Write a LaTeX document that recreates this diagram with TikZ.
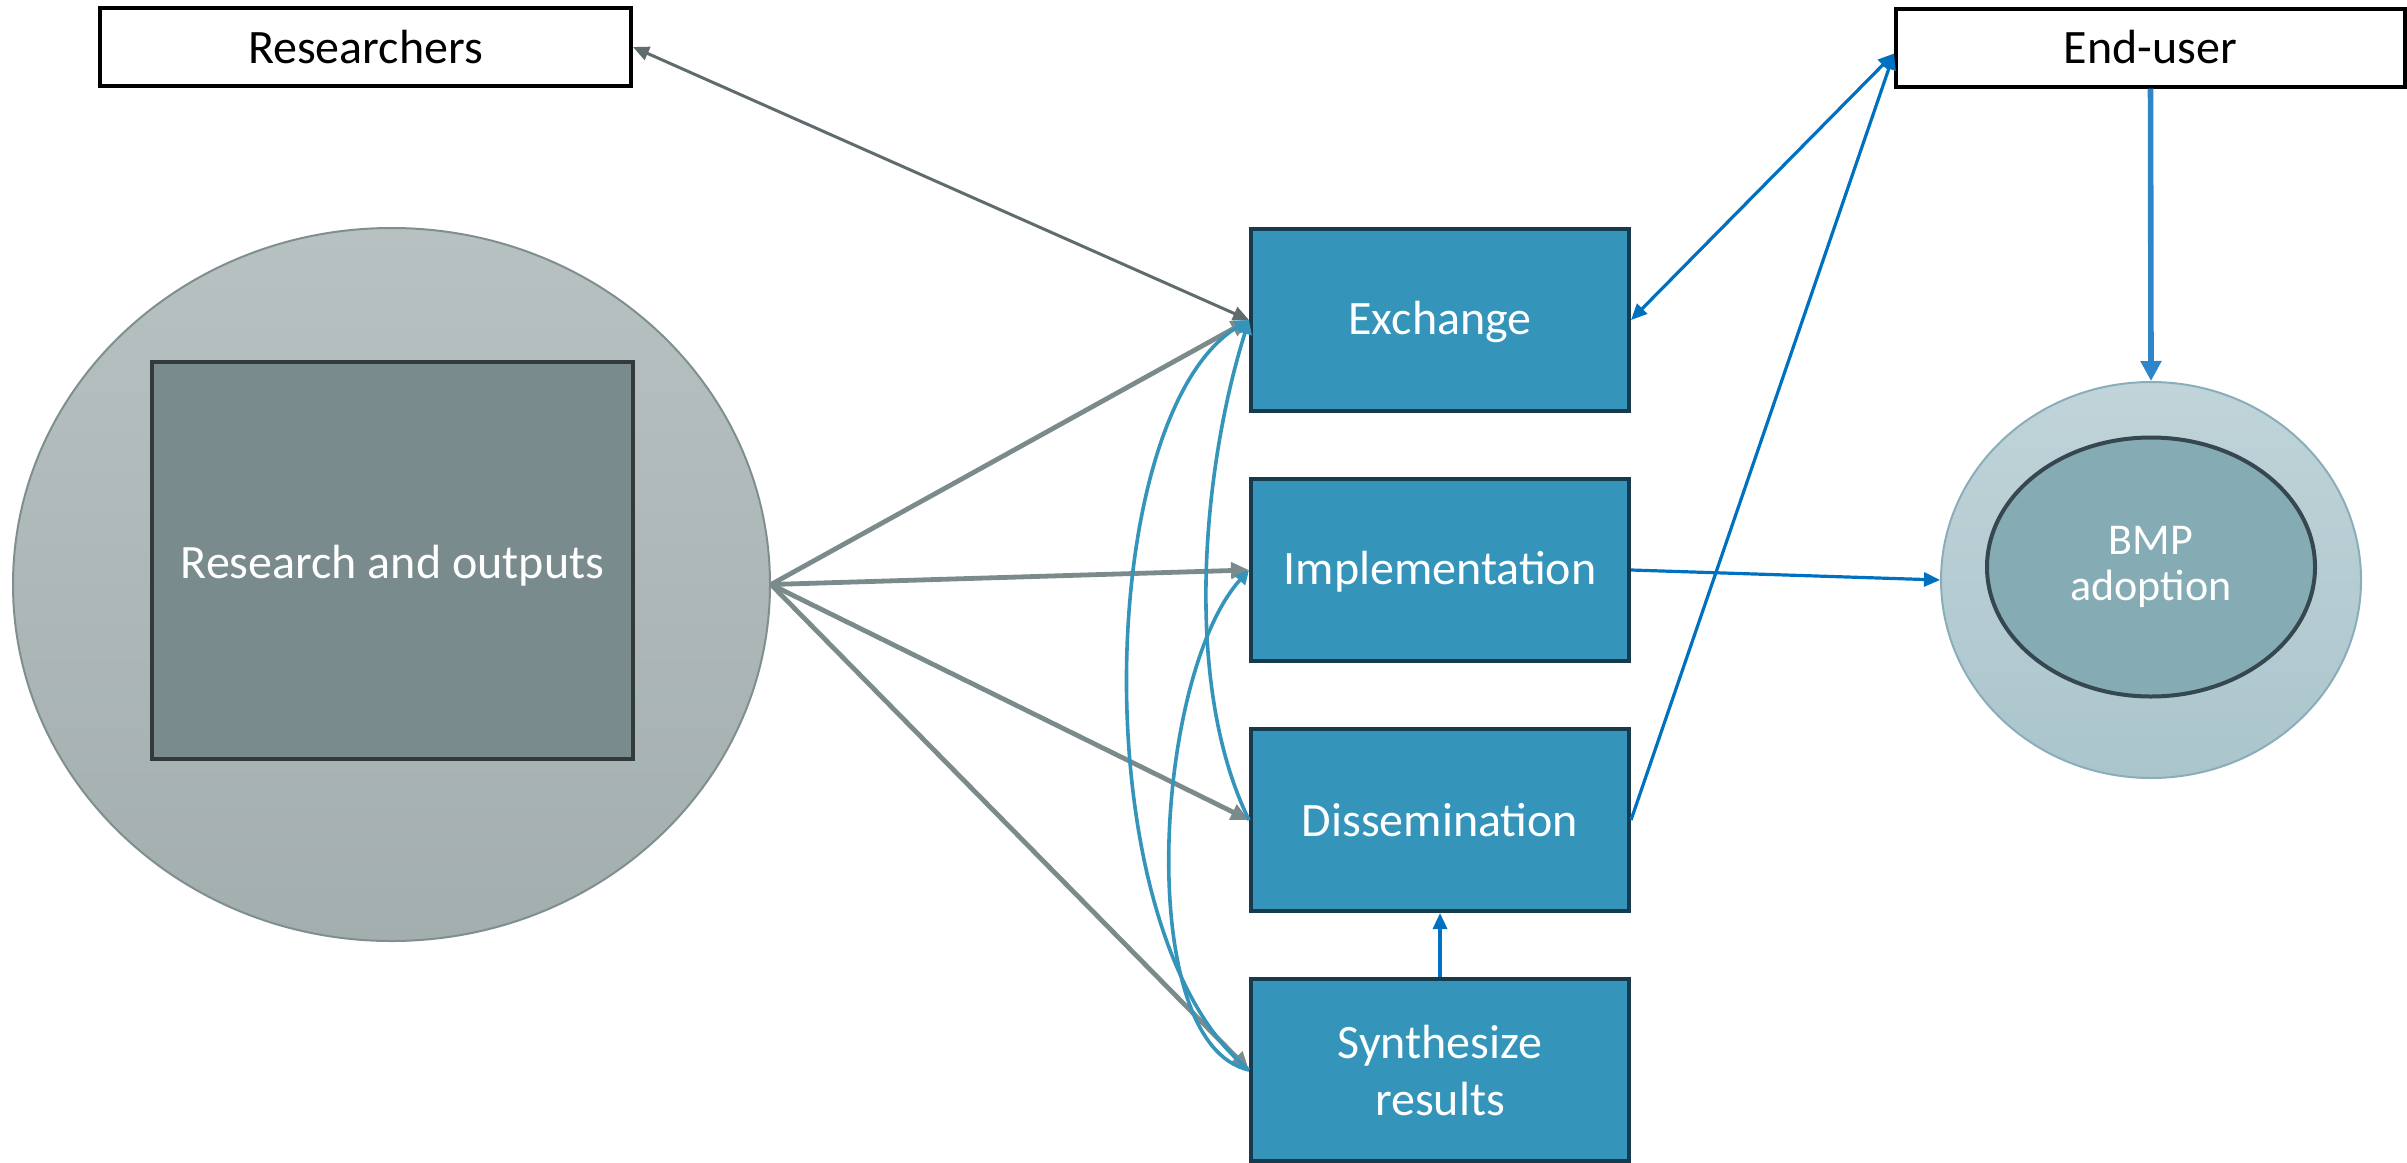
\documentclass[tikz,border=0pt]{standalone}
\usepackage{fontspec}
\setmainfont{Carlito}
\usetikzlibrary{arrows.meta,shapes.geometric}

\definecolor{boxfill}{HTML}{3494BA}
\definecolor{boxline}{HTML}{173A4E}
\definecolor{fanline}{HTML}{7B8B8C}
\definecolor{resline}{HTML}{5F6B6D}
\definecolor{curveblue}{HTML}{3494BA}
\definecolor{linkblue}{HTML}{0070C0}
\definecolor{adoptblue}{HTML}{2E86C8}
\definecolor{bigtop}{HTML}{B8C1C2}
\definecolor{bigbot}{HTML}{A3AEAF}
\definecolor{bigline}{HTML}{7F8F90}
\definecolor{rofill}{HTML}{7A8B8E}
\definecolor{roline}{HTML}{333A3C}
\definecolor{bmptop}{HTML}{C0D4D9}
\definecolor{bmpbot}{HTML}{ABC5CC}
\definecolor{bmpline}{HTML}{8AAEB9}
\definecolor{bmpinfill}{HTML}{85ABB5}
\definecolor{bmpinline}{HTML}{37474F}

\tikzset{
  bluetip/.tip={Triangle[length=8pt,width=7pt]},
  txt/.style={font=\fontsize{24}{28.5}\selectfont},
  actorbox/.style={txt, draw=black, line width=2pt, fill=white, inner sep=0pt,
    minimum height=39pt},
  stagebox/.style={txt, draw=boxline, line width=2pt, fill=boxfill, text=white,
    inner sep=0pt, minimum width=189pt, minimum height=91pt, align=center},
  onelinestage/.style={stagebox, text height=19pt, text depth=5pt},
  fan/.style={draw=fanline, line width=2.4pt, -{Triangle[length=9pt,width=8pt]}},
  loopcurve/.style={draw=curveblue, line width=1.8pt, -{Triangle[length=7pt,width=7pt]}},
  bluelink/.style={draw=linkblue, line width=1.6pt},
}

\begin{document}
\begin{tikzpicture}[x=0.5pt,y=-0.5pt]
\useasboundingbox (0,0) rectangle (2407,1162);

% research domain
\node[ellipse, draw=bigline, line width=1pt, top color=bigtop, bottom color=bigbot,
  minimum width=378.5pt, minimum height=356.5pt, inner sep=0pt] (big) at (391.5,584.5) {};
\node[txt, draw=roline, line width=2pt, fill=rofill, text=white, inner sep=0pt,
  text height=22.5pt, text depth=5pt,
  minimum width=240.5pt, minimum height=198.5pt] (ro) at (392.5,560.5) {Research and outputs};

% actors
\node[actorbox, minimum width=265.5pt] (res) at (365.5,47) {Researchers};
\node[actorbox, minimum width=254.5pt] (endu) at (2150.5,47.5) {End-user};

% stages
\node[onelinestage] (exch)  at (1440,320)  {Exchange};
\node[onelinestage] (impl)  at (1440,570)  {Implementation};
\node[stagebox] (diss)  at (1440,820)  {Dissemination};
\node[stagebox] (synth) at (1440,1070) {Synthesize\\results};

% adoption
\node[ellipse, draw=bmpline, line width=1pt, top color=bmptop, bottom color=bmpbot,
  minimum width=210pt, minimum height=198pt, inner sep=0pt] (bmpo) at (2151,580) {};
\node[ellipse, draw=bmpinline, line width=2pt, fill=bmpinfill, text=white, align=center,
  font=\fontsize{22}{23}\selectfont, minimum width=164pt, minimum height=129.5pt,
  inner sep=0pt] (bmpi) at (2151,567) {BMP\\adoption};

% researchers <-> exchange
\draw[draw=resline, line width=1.5pt, {Triangle[length=8pt,width=7pt]}-{Triangle[length=8pt,width=7pt]}]
  (res.east) -- (exch.west);

% fan from research outputs
\draw[fan] (big.east) -- (exch.west);
\draw[fan] (big.east) -- (impl.west);
\draw[fan] (big.east) -- (diss.west);
\draw[fan] (big.east) -- (synth.west);

% feedback curves between stages
\draw[loopcurve] (diss.west) .. controls (1182,683) and (1203,466) .. (exch.west);
\draw[loopcurve] (synth.west) .. controls (1082,936) and (1093,414) .. (exch.west);
\draw[loopcurve] (synth.west) .. controls (1133,1044) and (1154,675) .. (impl.west);

% stage links
\draw[bluelink, -{bluetip}] (synth.north) -- (diss.south);
\draw[bluelink, {bluetip}-{bluetip}] (exch.east) -- ([yshift=-3pt]endu.west);
\draw[bluelink, -{bluetip}] (diss.east) -- ([yshift=-3pt]endu.west);
\draw[bluelink, -{bluetip}] (impl.east) -- (bmpo.west);
\draw[draw=adoptblue, line width=2.8pt, -{Triangle[length=10pt,width=10pt]}] (endu.south) -- (bmpo.north);
\end{tikzpicture}
\end{document}
